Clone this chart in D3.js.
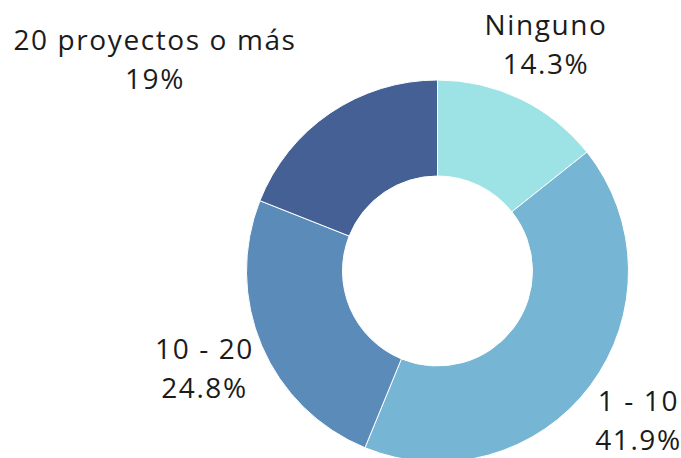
<!DOCTYPE html>
<html>
<head>
<meta charset="utf-8">
<script src="https://cdn.jsdelivr.net/npm/d3@7"></script>
<style>
  body { margin: 0; background: #fff; }
  svg { display: block; }
  text { font-family: "Open Sans", sans-serif; fill: #1b1b1b; letter-spacing: 1.6px; }
</style>
</head>
<body>
<script>
var categories = ["Ninguno", "1 - 10", "10 - 20", "20 proyectos o más"];
var values = [14.3, 41.9, 24.8, 19];
var pctLabels = ["14.3%", "41.9%", "24.8%", "19%"];
var colors = ["#9de3e6", "#76b5d3", "#5a8bb9", "#446094"];

// label nudges (px) from the polar spot
var labelShift = [[0, -1], [1, 0], [-3, 0], [-142, -4]];

main = function(){
	var W = 681, H = 458;
	var cx = 437.5, cy = 271;
	var outerR = 191, innerR = 95, labelR = 250;

	var svg = d3.select("body").append("svg")
		.attr("width", W)
		.attr("height", H);

	var g = svg.append("g")
		.attr("transform", "translate(" + cx + "," + cy + ")");

	var pie = d3.pie().sort(null).value(function(d){ return d; });
	var arcs = pie(values);

	var arc = d3.arc().innerRadius(innerR).outerRadius(outerR);

	g.selectAll("path.slice")
		.data(arcs)
		.enter().append("path")
		.attr("class", "slice")
		.attr("d", arc)
		.attr("fill", function(d, i){ return colors[i]; })
		.attr("stroke", "#fff")
		.attr("stroke-width", 1);

	var labels = g.selectAll("g.lbl")
		.data(arcs)
		.enter().append("g")
		.attr("class", "lbl")
		.attr("transform", function(d, i){
			var a = (d.startAngle + d.endAngle) / 2;
			var x = labelR * Math.sin(a) + labelShift[i][0];
			var y = -labelR * Math.cos(a) + labelShift[i][1];
			return "translate(" + x + "," + y + ")";
		});

	labels.append("text")
		.attr("text-anchor", "middle")
		.attr("y", -10)
		.style("font-size", "28px")
		.text(function(d, i){ return categories[i]; });

	labels.append("text")
		.attr("text-anchor", "middle")
		.attr("y", 29)
		.style("font-size", "28px")
		.text(function(d, i){ return pctLabels[i]; });
};

main();
</script>
</body>
</html>
